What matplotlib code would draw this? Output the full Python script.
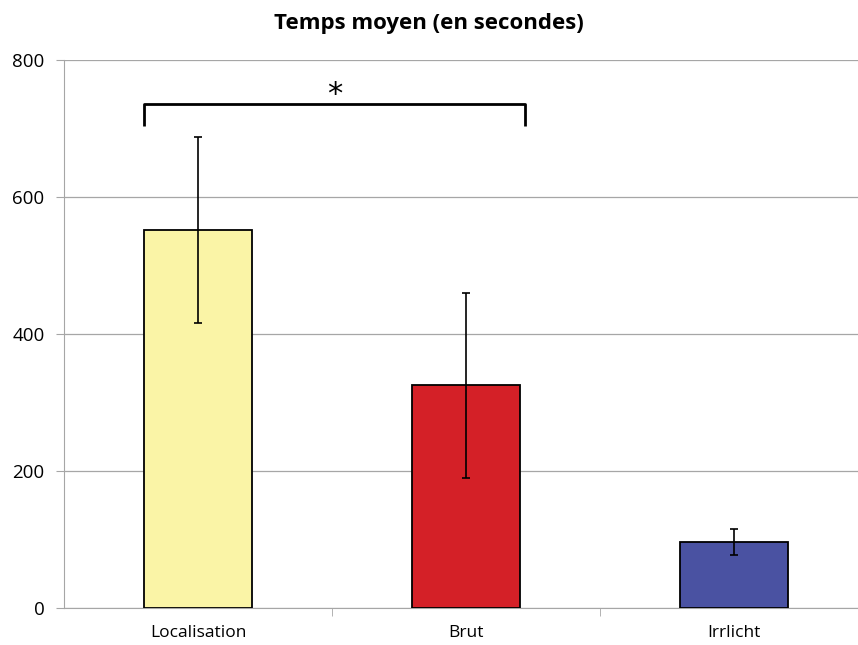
import matplotlib.pyplot as plt

categories = ['Localisation', 'Brut', 'Irrlicht']
means = [552, 325, 97]
errors = [136, 135, 19]
colors = ['#FAF4A6', '#D42027', '#4A52A2']

fig = plt.figure(figsize=(8.58, 6.45), dpi=100)
ax = fig.add_axes([64 / 858, 37 / 645, 804 / 858, 548 / 645])

x = range(len(categories))
ax.bar(x, means, width=0.4, color=colors, edgecolor='black', linewidth=1.3, zorder=3)
ax.errorbar(x, means, yerr=errors, fmt='none', ecolor='black', elinewidth=1.2,
            capsize=3, capthick=1.2, zorder=4)

ax.set_xlim(-0.5, 2.5)
ax.set_ylim(0, 800)
ax.set_yticks([0, 200, 400, 600, 800])
ax.yaxis.grid(True, color='#A6A6A6', linewidth=0.9, zorder=0)
ax.set_axisbelow(True)

ax.set_xticks(list(x))
ax.set_xticklabels(categories, fontsize=12.5, family='Open Sans')
ax.set_xticks([0.5, 1.5], minor=True)
ax.tick_params(axis='x', which='major', length=0, pad=12)
ax.tick_params(axis='x', which='minor', length=6, color='#A6A6A6', direction='out')
ax.tick_params(axis='y', length=6, color='#A6A6A6', labelsize=13.5, pad=8)
for lbl in ax.get_yticklabels():
    lbl.set_family('Open Sans')

for s in ['top', 'right']:
    ax.spines[s].set_visible(False)
ax.spines['left'].set_color('#A6A6A6')
ax.spines['bottom'].set_color('#A6A6A6')

# significance bracket
bx = [-0.2, -0.2, 1.22, 1.22]
by = [704, 736, 736, 704]
ax.plot(bx, by, color='black', linewidth=2, solid_capstyle='butt', zorder=5, clip_on=False)
ax.text(0.51, 728, '*', ha='center', va='bottom', fontsize=22, zorder=5)

fig.suptitle('Temps moyen (en secondes)', x=0.5, y=0.98, fontsize=16,
             fontweight='bold', family='Open Sans')

fig.savefig('out.png', dpi=100)
